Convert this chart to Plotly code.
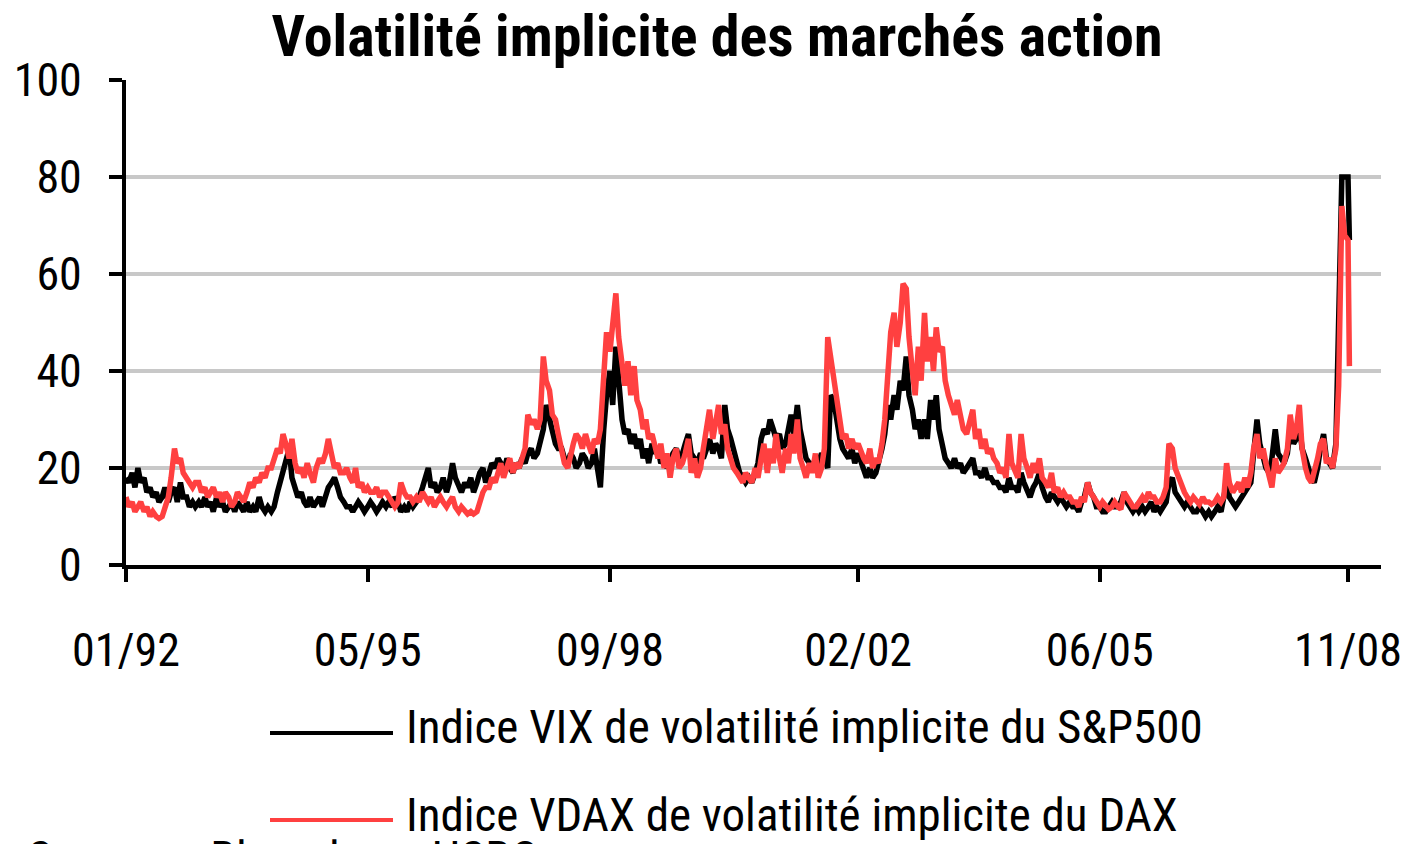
import pandas as pd
import plotly.graph_objects as go

# ---- data (semi-monthly readings, 1st and 15th of each month; last point 2008-11-08) ----
vix_1992 = [18, 17, 19, 16, 20, 17, 18, 15, 16, 14, 15, 13, 14, 16, 13, 15, 16, 13, 17, 14, 14, 12, 13, 12]
vix_1993 = [13, 12, 14, 12, 13, 11, 14, 12, 13, 11, 12, 13, 11, 13, 12, 11, 13, 11, 12, 11, 14, 12, 11, 12]
vix_1994 = [11, 12, 15, 17, 19, 21, 24, 18, 16, 14, 15, 13, 12, 14, 12, 13, 14, 12, 14, 16, 17, 18, 16, 14]
vix_1995 = [13, 12, 12, 11, 12, 13, 12, 11, 12, 13, 12, 11, 12, 13, 12, 13, 12, 14, 13, 11, 12, 11, 13, 12]
vix_1996 = [13, 14, 16, 18, 20, 16, 17, 15, 16, 18, 15, 17, 21, 18, 16, 15, 17, 16, 18, 15, 17, 19, 20, 17]
vix_1997 = [19, 21, 20, 22, 21, 19, 22, 20, 19, 21, 20, 22, 21, 23, 24, 22, 23, 25, 28, 33, 30, 27, 25, 24]
vix_1998 = [24, 22, 21, 23, 22, 20, 21, 23, 22, 20, 21, 24, 19, 16, 28, 35, 40, 33, 45, 38, 30, 27, 28, 25]
vix_1999 = [27, 24, 26, 22, 24, 21, 25, 23, 24, 21, 22, 20, 21, 23, 24, 22, 23, 25, 27, 23, 22, 21, 23, 22]
vix_2000 = [24, 26, 23, 25, 24, 22, 33, 28, 26, 24, 21, 19, 18, 17, 18, 17, 19, 21, 26, 28, 27, 30, 28, 26]
vix_2001 = [27, 24, 25, 28, 31, 27, 33, 28, 24, 22, 21, 20, 22, 21, 23, 22, 20, 35, 34, 30, 26, 24, 23, 22]
vix_2002 = [24, 21, 23, 21, 19, 18, 20, 18, 19, 21, 24, 27, 33, 30, 35, 32, 38, 36, 43, 35, 32, 28, 30, 26]
vix_2003 = [30, 26, 34, 30, 35, 28, 25, 22, 21, 20, 22, 20, 21, 19, 20, 21, 22, 19, 19, 18, 20, 18, 18, 17]
vix_2004 = [17, 16, 16, 15, 18, 16, 16, 15, 19, 17, 15, 14, 16, 17, 19, 16, 14, 13, 15, 14, 13, 14, 13, 12]
vix_2005 = [13, 12, 12, 11, 13, 14, 17, 15, 14, 12, 12, 11, 11, 12, 13, 12, 12, 13, 15, 13, 12, 11, 12, 11]
vix_2006 = [12, 11, 12, 13, 11, 12, 11, 12, 13, 17, 18, 15, 14, 13, 12, 13, 12, 11, 11, 12, 11, 10, 11, 10]
vix_2007 = [11, 12, 11, 14, 17, 14, 13, 12, 13, 14, 15, 16, 17, 23, 30, 25, 22, 20, 19, 22, 28, 23, 22, 21]
vix_2008 = [23, 28, 25, 26, 29, 24, 22, 20, 18, 17, 20, 24, 27, 22, 21, 20, 25, 47, 80, 80, 80, 67]

vdax_1992 = [14, 12, 13, 11, 12, 13, 11, 12, 10, 11, 10, 9.6, 10, 12, 14, 18, 24, 21, 22, 19, 18, 17, 16, 17]
vdax_1993 = [17, 15, 16, 14, 15, 16, 14, 15, 13, 15, 14, 12, 13, 15, 14, 13, 15, 17, 16, 18, 17, 19, 18, 20]
vdax_1994 = [20, 22, 24, 23, 27, 25, 22, 26, 21, 19, 20, 18, 21, 19, 17, 20, 22, 21, 23, 26, 22, 20, 21, 19]
vdax_1995 = [19, 20, 18, 17, 20, 16, 17, 15, 16, 15, 15, 16, 14, 15, 15, 14, 13, 12, 13, 17, 15, 14, 14, 13]
vdax_1996 = [14, 13, 15, 14, 13, 14, 12, 13, 14, 13, 12, 13, 14, 12, 11, 12, 11, 10.5, 11, 10.5, 11, 13, 15, 16]
vdax_1997 = [16, 18, 17, 19, 21, 18, 20, 22, 19, 21, 20, 22, 24, 31, 29, 30, 28, 30, 43, 38, 36, 31, 30, 27]
vdax_1998 = [24, 21, 20, 23, 25, 27, 26, 24, 27, 25, 23, 26, 25, 28, 37, 48, 44, 50, 56, 47, 40, 37, 42, 35]
vdax_1999 = [41, 34, 32, 28, 30, 26, 27, 24, 22, 25, 20, 23, 18, 22, 24, 20, 21, 23, 26, 19, 22, 18, 20, 24]
vdax_2000 = [28, 32, 26, 30, 33, 27, 29, 24, 22, 20, 19, 18, 17, 19, 18, 17, 20, 18, 22, 25, 19, 24, 21, 27]
vdax_2001 = [22, 19, 24, 21, 27, 23, 30, 22, 20, 18, 21, 19, 23, 18, 20, 24, 47, 43, 38, 33, 29, 26, 27, 24]
vdax_2002 = [26, 24, 25, 23, 22, 21, 24, 20, 22, 21, 25, 30, 40, 48, 52, 45, 50, 58, 57, 47, 40, 35, 45, 38]
vdax_2003 = [52, 42, 47, 40, 49, 44, 45, 38, 35, 33, 31, 34, 30, 28, 27, 29, 32, 26, 28, 24, 26, 23, 24, 22]
vdax_2004 = [21, 19, 20, 18, 27, 21, 19, 18, 27, 22, 20, 18, 21, 19, 22, 18, 17, 16, 19, 15, 16, 14, 15, 14]
vdax_2005 = [14, 13, 13, 12, 14, 13, 17, 15, 14, 13, 12, 13, 12, 11.5, 12, 13, 12, 11.5, 15, 14, 13, 12, 12, 13]
vdax_2006 = [14, 13, 15, 14, 14, 13, 13, 14, 16, 25, 24, 20, 18, 17, 15, 14, 13, 14, 13, 12.5, 14, 13, 13, 12.5]
vdax_2007 = [13, 14, 13, 14, 21, 17, 15, 16, 17, 15, 18, 16, 19, 24, 27, 22, 24, 21, 18, 16, 22, 19, 20, 21]
vdax_2008 = [24, 31, 26, 28, 33, 24, 20, 18, 17, 19, 22, 25, 26, 21, 22, 20, 24, 37, 74, 68, 67, 41]

tick_dates = ["1992-01-01", "1995-05-01", "1998-09-01", "2002-02-01", "2005-06-01", "2008-11-01"]
tick_labels = ["01/92", "05/95", "09/98", "02/02", "06/05", "11/08"]

title_text = "Volatilité implicite des marchés action"
name_vix = "Indice VIX de volatilité implicite du S&P500"
name_vdax = "Indice VDAX de volatilité implicite du DAX"
source_text = "Sources : Bloomberg, HSBC"

vix = (vix_1992 + vix_1993 + vix_1994 + vix_1995 + vix_1996 + vix_1997 + vix_1998 + vix_1999
       + vix_2000 + vix_2001 + vix_2002 + vix_2003 + vix_2004 + vix_2005 + vix_2006 + vix_2007 + vix_2008)
vdax = (vdax_1992 + vdax_1993 + vdax_1994 + vdax_1995 + vdax_1996 + vdax_1997 + vdax_1998 + vdax_1999
        + vdax_2000 + vdax_2001 + vdax_2002 + vdax_2003 + vdax_2004 + vdax_2005 + vdax_2006 + vdax_2007 + vdax_2008)

dates = list(pd.date_range("1992-01-01", "2008-11-01", freq="SMS")) + [pd.Timestamp("2008-11-08")]
assert len(dates) == len(vix) == len(vdax)

FONT = "Liberation Sans Narrow, Arial Narrow, Roboto Condensed, DejaVu Sans Condensed, sans-serif"
BLACK = "#000000"
RED = "#FF4040"

L, R, T, B = 126, 1381, 80, 565  # plot area in pixels

fig = go.Figure()
fig.add_trace(go.Scatter(x=dates, y=vix, mode="lines", name=name_vix,
                         line=dict(color=BLACK, width=5.5)))
fig.add_trace(go.Scatter(x=dates, y=vdax, mode="lines", name=name_vdax,
                         line=dict(color=RED, width=5.5)))

fig.update_layout(
    width=1407, height=844,
    margin=dict(l=L, r=1407 - R, t=T, b=844 - B, autoexpand=False),
    paper_bgcolor="white", plot_bgcolor="white",
    showlegend=False,
    font=dict(family=FONT, color="black", size=46),
    title=dict(text="<b>" + title_text + "</b>", x=717 / 1407, xanchor="center",
               y=1 - 36 / 844, yanchor="middle", yref="container",
               font=dict(family=FONT, size=58, color="black")),
)
fig.update_xaxes(
    type="date", range=["1992-01-01", "2009-04-16"],
    tickvals=tick_dates, ticktext=tick_labels,
    ticks="outside", ticklen=13, tickwidth=4, tickcolor=BLACK,
    showline=True, linewidth=4, linecolor=BLACK,
    showgrid=False, zeroline=False, automargin=False,
    tickfont=dict(size=46, family=FONT), ticklabelstandoff=29,
)
fig.update_yaxes(
    range=[0, 100], tickvals=[0, 20, 40, 60, 80, 100],
    ticks="outside", ticklen=13, tickwidth=4, tickcolor=BLACK,
    showline=True, linewidth=4, linecolor=BLACK,
    showgrid=True, gridcolor="#C8C8C8", gridwidth=4, zeroline=False, automargin=False,
    tickfont=dict(size=46, family=FONT), ticklabelstandoff=18,
)

# custom legend below the chart (long line samples like the original)
def px_x(px):
    return (px - L) / (R - L)

def px_y(py):
    return (B - py) / (B - T)

for name, color, ly, ty in [(name_vix, BLACK, 733, 726), (name_vdax, RED, 820, 814)]:
    fig.add_shape(type="line", xref="paper", yref="paper",
                  x0=px_x(270), x1=px_x(393), y0=px_y(ly), y1=px_y(ly),
                  line=dict(color=color, width=4))
    fig.add_annotation(text=name, xref="paper", yref="paper", x=px_x(404), y=px_y(ty),
                       xanchor="left", yanchor="middle", showarrow=False,
                       font=dict(family=FONT, size=47, color="black"))

fig.add_annotation(text=source_text, xref="paper", yref="paper", x=px_x(26), y=px_y(828),
                   xanchor="left", yanchor="top", showarrow=False,
                   font=dict(family=FONT, size=47, color="black"))

fig.write_html("out.html", config={"displayModeBar": False},
               post_script="document.body.style.margin='0';document.body.style.overflow='hidden';")
